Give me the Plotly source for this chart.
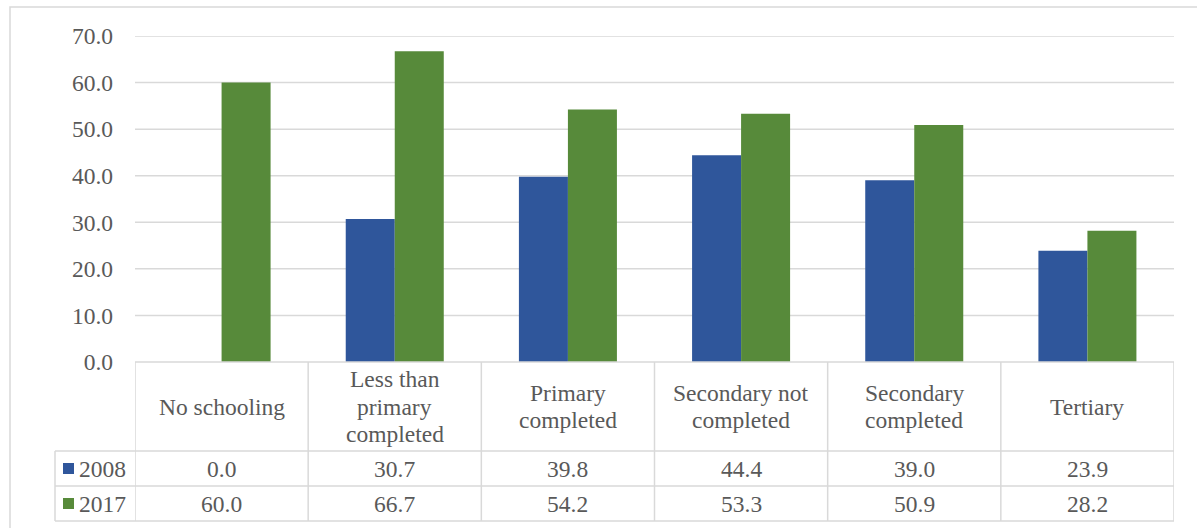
import plotly.graph_objects as go

# ---- data -------------------------------------------------------------
categories = [
    "No schooling",
    "Less than<br>primary<br>completed",
    "Primary<br>completed",
    "Secondary not<br>completed",
    "Secondary<br>completed",
    "Tertiary",
]
series_names = ["2008", "2017"]
values_2008 = [0.0, 30.7, 39.8, 44.4, 39.0, 23.9]
values_2017 = [60.0, 66.7, 54.2, 53.3, 50.9, 28.2]
y_tick_values = [0, 10, 20, 30, 40, 50, 60, 70]
y_tick_labels = ["0.0", "10.0", "20.0", "30.0", "40.0", "50.0", "60.0", "70.0"]

# ---- style ------------------------------------------------------------
W, H = 1197, 528
M_L, M_R, M_T, M_B = 135, 23, 36, 166
FONT = "'Liberation Serif', 'Times New Roman', Times, serif"
TXT = "#595959"
GRID = "#d9d9d9"
BLUE = "#2f569b"
GREEN = "#578a3a"
FS = 23.5
LINE_H = 27.5  # header line spacing in px

plot_w = W - M_L - M_R
plot_h = H - M_T - M_B


def px_x(px):
    """page x pixel -> paper x"""
    return (px - M_L) / plot_w


def px_y(py):
    """page y pixel -> paper y"""
    return (H - M_B - py) / plot_h


n = len(categories)
xs = list(range(n))

fig = go.Figure()
fig.add_trace(go.Bar(x=xs, y=values_2008, name=series_names[0],
                     marker=dict(color=BLUE, line=dict(width=0))))
fig.add_trace(go.Bar(x=xs, y=values_2017, name=series_names[1],
                     marker=dict(color=GREEN, line=dict(width=0))))

shapes = []
annotations = []

# horizontal gridlines across the category area
for v in y_tick_values[1:]:
    shapes.append(dict(type="line", xref="x", yref="y", x0=-0.5, x1=n - 0.5,
                       y0=v, y1=v, line=dict(color=GRID, width=1.5), layer="below"))

# data table under the bars
header_bottom = px_y(451)
row1_bottom = px_y(486)
row2_bottom = px_y(521)
top = 0.0
legend_left = px_x(55)

line_style = dict(color=GRID, width=1.5)
# vertical separators between categories
for i in range(n + 1):
    shapes.append(dict(type="line", xref="x", yref="paper", x0=i - 0.5, x1=i - 0.5,
                       y0=top, y1=row2_bottom, line=line_style))
# horizontal rules of the table
shapes.append(dict(type="line", xref="paper", yref="paper", x0=0, x1=1,
                   y0=top, y1=top, line=line_style))
for yy in (header_bottom, row1_bottom, row2_bottom):
    shapes.append(dict(type="line", xref="paper", yref="paper", x0=legend_left, x1=1,
                       y0=yy, y1=yy, line=line_style))
# left edge of the series-name column
shapes.append(dict(type="line", xref="paper", yref="paper", x0=legend_left, x1=legend_left,
                   y0=header_bottom, y1=row2_bottom, line=line_style))

# outer chart frame
shapes.append(dict(type="rect", xref="paper", yref="paper", x0=px_x(10), x1=px_x(1230),
                   y0=px_y(560), y1=px_y(7), line=dict(color=GRID, width=1.5),
                   fillcolor="rgba(0,0,0,0)", layer="below"))

# header labels, one annotation per line for tight line spacing
header_mid = (top + header_bottom) / 2
for i, c in enumerate(categories):
    parts = c.split("<br>")
    m = len(parts)
    for k, part in enumerate(parts):
        dy = (k - (m - 1) / 2) * LINE_H / plot_h
        annotations.append(dict(x=i, y=header_mid - dy, xref="x", yref="paper",
                                text=part, showarrow=False, xanchor="center",
                                yanchor="middle",
                                font=dict(family=FONT, size=FS, color=TXT)))

# value rows with legend keys
rows = [(series_names[0], values_2008, BLUE, header_bottom, row1_bottom),
        (series_names[1], values_2017, GREEN, row1_bottom, row2_bottom)]
for name, vals, col, y_top, y_bot in rows:
    yc = (y_top + y_bot) / 2
    for i, v in enumerate(vals):
        annotations.append(dict(x=i, y=yc, xref="x", yref="paper", text=f"{v:.1f}",
                                showarrow=False, xanchor="center", yanchor="middle",
                                font=dict(family=FONT, size=FS, color=TXT)))
    sq = 11 / plot_h
    shapes.append(dict(type="rect", xref="paper", yref="paper",
                       x0=px_x(63), x1=px_x(74), y0=yc - sq / 2, y1=yc + sq / 2,
                       fillcolor=col, line=dict(width=0)))
    annotations.append(dict(x=px_x(77), y=yc, xref="paper", yref="paper", text=name,
                            showarrow=False, xanchor="left", yanchor="middle",
                            font=dict(family=FONT, size=FS, color=TXT)))

fig.update_layout(
    width=W, height=H,
    margin=dict(l=M_L, r=M_R, t=M_T, b=M_B, pad=0),
    paper_bgcolor="white", plot_bgcolor="white",
    barmode="group", bargap=0.434, bargroupgap=0,
    showlegend=False,
    shapes=shapes, annotations=annotations,
    font=dict(family=FONT, size=FS, color=TXT),
)
fig.update_xaxes(range=[-0.5, n - 0.5], showticklabels=False, showgrid=False,
                 zeroline=False, showline=False, ticks="", fixedrange=True)
fig.update_yaxes(range=[0, 70], tickvals=y_tick_values, ticktext=y_tick_labels,
                 showgrid=False, zeroline=False, showline=False, ticks="",
                 ticklabelstandoff=21,
                 tickfont=dict(family=FONT, size=FS, color=TXT), fixedrange=True)

fig.write_html("out.html", config={"displayModeBar": False})
